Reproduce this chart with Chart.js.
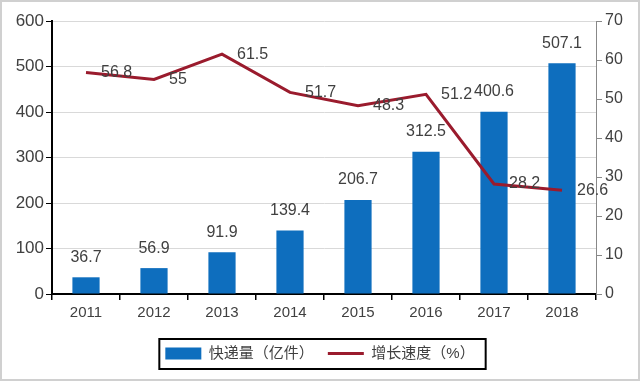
<!DOCTYPE html>
<html><head><meta charset="utf-8">
<script src="https://cdn.jsdelivr.net/npm/chart.js@4/dist/chart.umd.min.js"></script>
<style>html,body{margin:0;padding:0;background:#fff}#wrap{width:640px;height:381px;position:relative}</style>
</head><body><div id="wrap"><canvas id="c" width="640" height="381"></canvas></div>
<script>
const categories = ['2011','2012','2013','2014','2015','2016','2017','2018'];
const volume = [36.7, 56.9, 91.9, 139.4, 206.7, 312.5, 400.6, 507.1];
const growth = [56.8, 55, 61.5, 51.7, 48.3, 51.2, 28.2, 26.6];
const volumeLabel = '快递量（亿件）';
const growthLabel = '增长速度（%）';

const FONT = '"Liberation Sans", Arial, "Noto Sans CJK SC", sans-serif';
const TXT = '#404040';

const labelsPlugin = {
  id: 'valueLabels',
  afterDatasetsDraw(chart) {
    const ctx = chart.ctx;
    ctx.save();
    ctx.font = '16px ' + FONT;
    ctx.fillStyle = TXT;
    ctx.textBaseline = 'middle';
    const m0 = chart.getDatasetMeta(0);
    ctx.textAlign = 'center';
    m0.data.forEach((el, i) => ctx.fillText(String(volume[i]), el.x, el.y - 20));
    const m1 = chart.getDatasetMeta(1);
    ctx.textAlign = 'left';
    m1.data.forEach((el, i) => ctx.fillText(String(growth[i]), el.x + 15, el.y));
    ctx.restore();
  }
};
const framePlugin = {
  id: 'frame',
  beforeDraw(chart) {
    const ctx = chart.ctx;
    ctx.save();
    ctx.fillStyle = '#fff';
    ctx.fillRect(0, 0, chart.width, chart.height);
    ctx.restore();
  },
  afterDraw(chart) {
    const ctx = chart.ctx;
    ctx.save();
    ctx.strokeStyle = '#d0d0d0';
    ctx.lineWidth = 2;
    ctx.strokeRect(1, 1, chart.width - 2, chart.height - 2);
    const hb = chart.legend && chart.legend.legendHitBoxes;
    if (hb && hb.length) {
      let l = Infinity, r = -Infinity, t = Infinity, b = -Infinity;
      hb.forEach(h => { l = Math.min(l, h.left); r = Math.max(r, h.left + h.width); t = Math.min(t, h.top); b = Math.max(b, h.top + h.height); });
      ctx.strokeStyle = '#000';
      ctx.lineWidth = 2;
      ctx.strokeRect(l - 6, t - 7, (r - l) + 17, (b - t) + 15);
    }
    ctx.restore();
  }
};

new Chart(document.getElementById('c'), {
  data: {
    labels: categories,
    datasets: [
      { type: 'bar', label: volumeLabel, data: volume, yAxisID: 'y', backgroundColor: '#0e6ebe', barPercentage: 0.4, categoryPercentage: 1.0, order: 2 },
      { type: 'line', label: growthLabel, data: growth, yAxisID: 'y1', borderColor: '#9a1b2d', backgroundColor: '#9a1b2d', borderWidth: 3, pointRadius: 0, tension: 0, order: 1 }
    ]
  },
  options: {
    responsive: false,
    animation: false,
    devicePixelRatio: 1,
    layout: { padding: { top: 21, bottom: 10, left: 0, right: 0 } },
    plugins: {
      tooltip: { enabled: false },
      legend: {
        position: 'bottom',
        labels: {
          usePointStyle: true,
          pointStyleWidth: 36,
          boxHeight: 12,
          padding: 14,
          color: TXT,
          font: { size: 15, family: FONT },
          generateLabels(chart) {
            return chart.data.datasets.map((ds, i) => ({
              text: ds.label,
              fillStyle: ds.backgroundColor,
              strokeStyle: ds.borderColor || ds.backgroundColor,
              lineWidth: ds.type === 'line' ? 3 : 0,
              pointStyle: ds.type === 'line' ? 'line' : 'rect',
              fontColor: TXT,
              datasetIndex: i,
              hidden: false
            }));
          }
        }
      }
    },
    scales: {
      x: {
        offset: true,
        grid: { offset: true, drawOnChartArea: false, drawTicks: true, tickLength: 6, tickColor: '#000', lineWidth: 1.5 },
        border: { color: '#000', width: 2 },
        ticks: { color: TXT, font: { size: 15, family: FONT }, padding: 4 },
        afterFit(s) { s.height = 38; }
      },
      y: {
        position: 'left', min: 0, max: 600,
        ticks: { stepSize: 100, color: TXT, font: { size: 17, family: FONT }, padding: 2 },
        grid: { color: '#d9d9d9', lineWidth: 1, tickColor: '#000', tickLength: 6 },
        border: { color: '#000', width: 2 },
        afterFit(s) { s.width = 52; }
      },
      y1: {
        position: 'right', min: 0, max: 70,
        ticks: { stepSize: 10, color: TXT, font: { size: 16, family: FONT }, padding: 3 },
        grid: { drawOnChartArea: false, tickColor: '#888', tickLength: 6 },
        border: { color: '#888', width: 1 },
        afterFit(s) { s.width = 44; }
      }
    }
  },
  plugins: [labelsPlugin, framePlugin]
});
</script></body></html>
